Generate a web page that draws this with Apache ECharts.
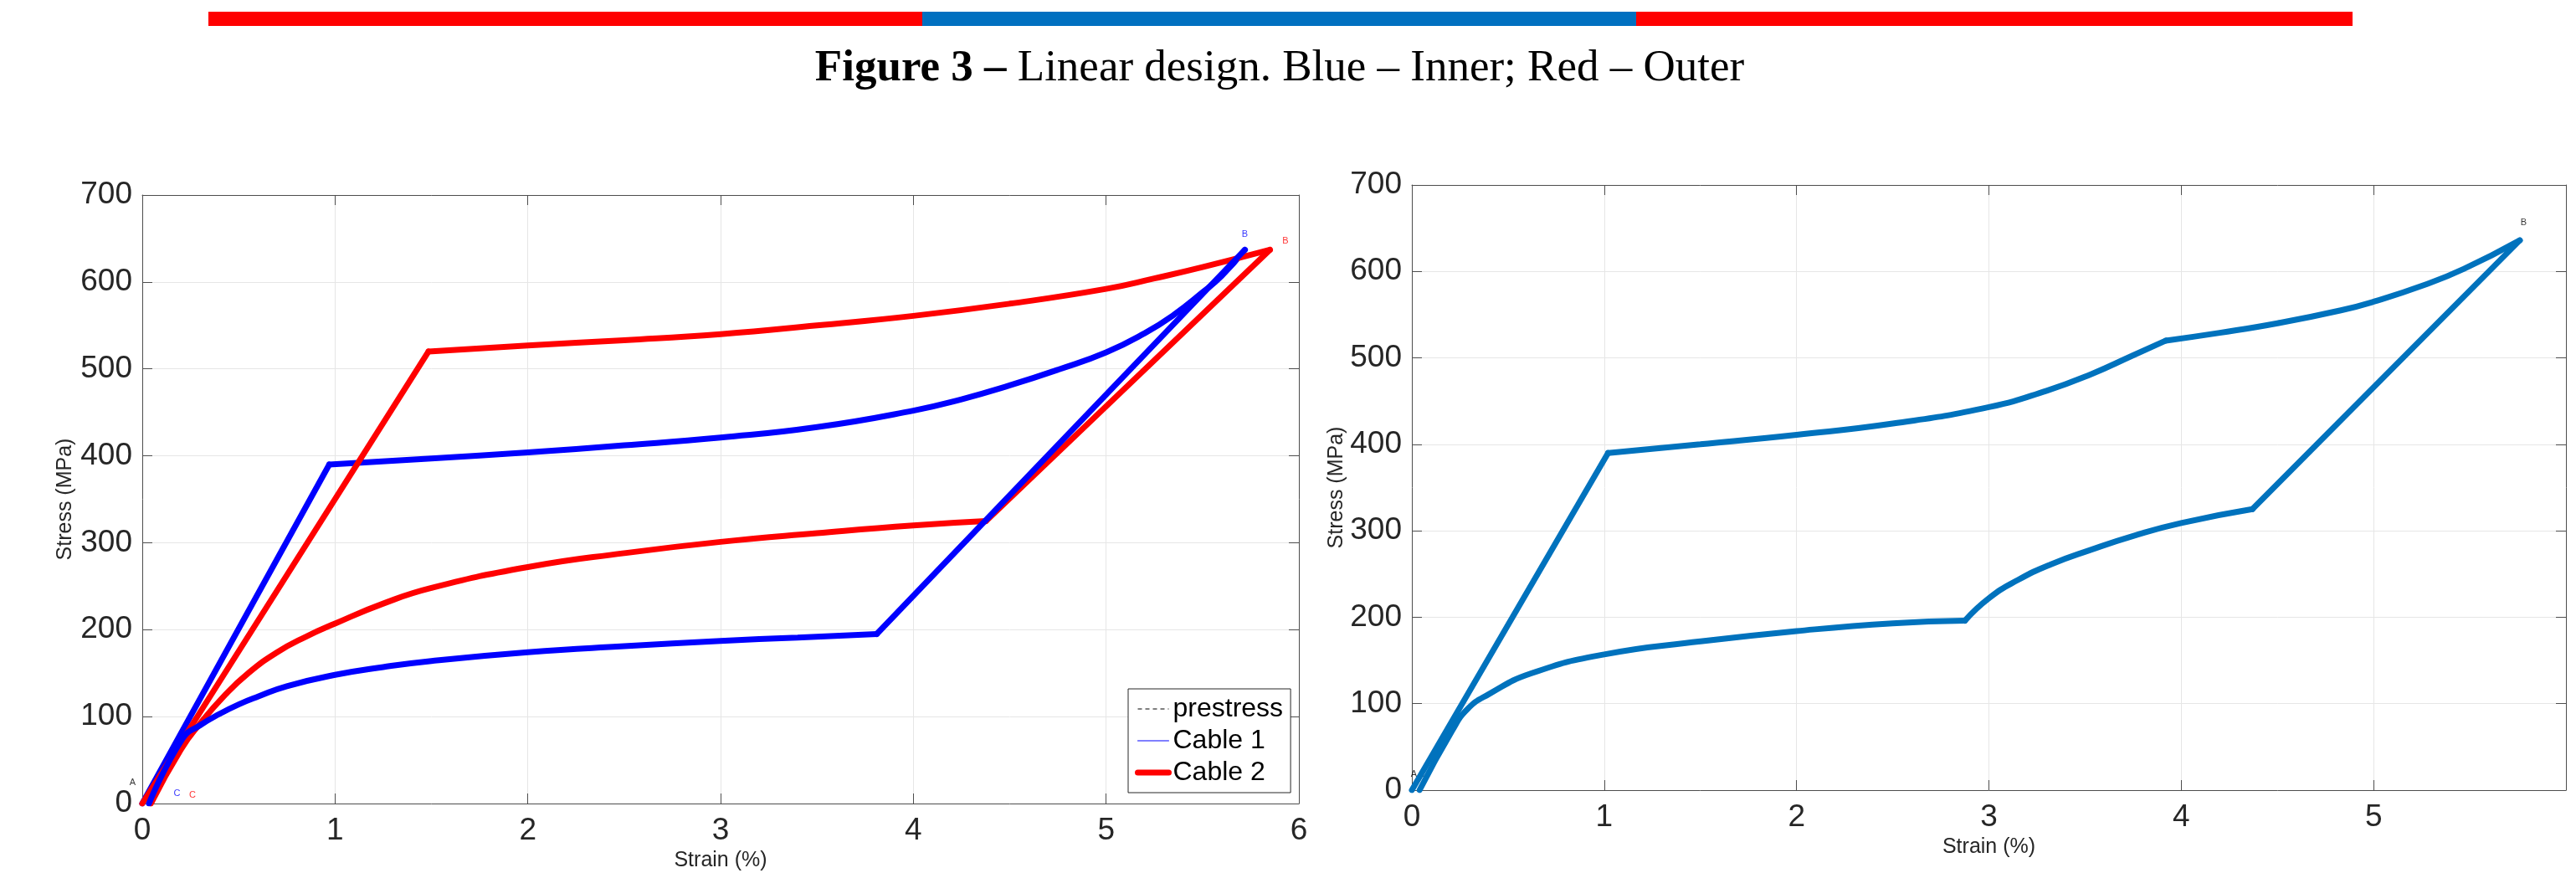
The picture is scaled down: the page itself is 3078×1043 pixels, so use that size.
<!DOCTYPE html>
<html>
<head>
<meta charset="utf-8">
<title>Figure 3 - Linear design</title>
<script src="https://cdn.jsdelivr.net/npm/echarts@6/dist/echarts.min.js"></script>
<style>
	html, body { margin : 0; padding : 0; background : #fff; }
	#main { width : 3078px; height : 1043px; }
</style>
</head>
<body>
<div id="main"></div>
<script>
// tick values shared by both plots
var strainTicks = [ 0, 6, 1 ];
var stressTicks = [ 0, 700, 100 ];

// left plot, Cable 1 (inner): elastic loading, hardening up to B, elastic unloading, return to C
var c1Load = [ [ 0, 0 ], [ 0.97, 390 ] ];
var c1Plateau = [ [ 0.97, 390 ], [ 1.5, 397 ], [ 2, 404 ], [ 2.5, 412 ], [ 3, 421 ], [ 3.5, 433 ], [ 4, 452 ],
		[ 4.25, 465 ], [ 4.5, 481 ], [ 4.75, 499 ], [ 5, 519 ], [ 5.2, 541 ], [ 5.35, 562 ], [ 5.5, 588 ],
		[ 5.6, 607 ], [ 5.72, 637 ] ];
var c1Unload = [ [ 5.72, 637 ], [ 3.81, 195 ] ];
var c1Return = [ [ 3.81, 195 ], [ 3.4, 191 ], [ 3, 187 ], [ 2.5, 181 ], [ 2, 174 ], [ 1.5, 164 ], [ 1.25, 157 ],
		[ 1, 148 ], [ 0.75, 135 ], [ 0.6, 123 ], [ 0.5, 114 ], [ 0.4, 103 ], [ 0.3, 90 ], [ 0.21, 75 ], [ 0.035, 0 ] ];
// left plot, Cable 2 (outer)
var c2Load = [ [ 0, 0 ], [ 1.485, 520 ] ];
var c2Plateau = [ [ 1.485, 520 ], [ 2, 527 ], [ 2.5, 533 ], [ 3, 540 ], [ 3.5, 550 ], [ 4, 561 ], [ 4.5, 575 ],
		[ 5, 592 ], [ 5.25, 604 ], [ 5.5, 617 ], [ 5.85, 637 ] ];
var c2Unload = [ [ 5.85, 637 ], [ 4.377, 325 ] ];
var c2Return = [ [ 4.377, 325 ], [ 4, 320 ], [ 3.5, 311 ], [ 3, 301 ], [ 2.5, 288 ], [ 2, 272 ], [ 1.5, 248 ],
		[ 1.25, 230 ], [ 1, 207 ], [ 0.85, 192 ], [ 0.7, 174 ], [ 0.55, 150 ], [ 0.43, 125 ], [ 0.3, 92 ],
		[ 0.2, 62 ], [ 0.045, 0 ] ];
var prestress = [];
// right plot, combined linear design
var rLoad = [ [ 0, 0 ], [ 1.02, 390 ] ];
var rUpper1 = [ [ 1.02, 390 ], [ 1.5, 400 ], [ 2, 411 ], [ 2.5, 424 ], [ 3, 443 ], [ 3.3, 462 ], [ 3.53, 481 ],
		[ 3.75, 503 ], [ 3.92, 520 ] ];
var rUpper2 = [ [ 3.92, 520 ], [ 4.2, 529 ], [ 4.5, 540 ], [ 4.83, 555 ], [ 5, 565 ], [ 5.26, 584 ], [ 5.47, 603 ],
		[ 5.76, 636 ] ];
var rUnload = [ [ 5.76, 636 ], [ 4.37, 325 ] ];
var rLower1 = [ [ 4.37, 325 ], [ 4, 309 ], [ 3.75, 294 ], [ 3.53, 278 ], [ 3.32, 261 ], [ 3.15, 243 ], [ 3, 222 ],
		[ 2.875, 196 ] ];
var rLower2 = [ [ 2.875, 196 ], [ 2.5, 193 ], [ 2, 184 ], [ 1.5, 172 ], [ 1, 157 ], [ 0.62, 135 ], [ 0.4, 111 ],
		[ 0.29, 94 ], [ 0.21, 69 ], [ 0.04, 0 ] ];

// point labels [strain, stress, text]
var leftLabelsBlack = [ [ -0.05, 24, 'A' ] ];
var leftLabelsBlue = [ [ 0.18, 12, 'C' ], [ 5.72, 655, 'B' ] ];
var leftLabelsRed = [ [ 0.26, 9.6, 'C' ], [ 5.93, 647, 'B' ] ];
var rightLabels = [ [ 0.01, 18, 'A' ], [ 0.055, 18, 'C' ], [ 5.78, 656, 'B' ] ];

var legendNames = [ 'prestress', 'Cable 1', 'Cable 2' ];
var titleBold = 'Figure 3 –';
var titleRest = ' Linear design. Blue – Inner; Red – Outer';

var tickColor = '#262626';
var boxColor = '#4d4d4d';
var blue1 = '#0000ff', red2 = '#ff0000', blueR = '#0072bd';

function makeAxes(grid, hideMax) {
	var line = { show : true, onZero : false, lineStyle : { color : boxColor, width : 1 } };
	var tick = { show : true, inside : true, length : 12, lineStyle : { color : boxColor } };
	var xb = {
		type : 'value', gridIndex : grid, position : 'bottom',
		min : strainTicks[0], max : strainTicks[1], interval : strainTicks[2],
		name : 'Strain (%)', nameLocation : 'middle', nameGap : 56,
		nameTextStyle : { fontSize : 25, color : tickColor, fontFamily : 'Liberation Sans' },
		axisLine : line, axisTick : tick,
		axisLabel : { fontSize : 37, color : tickColor, margin : 14, fontFamily : 'Liberation Sans', showMaxLabel : !hideMax },
		splitLine : { show : true, lineStyle : { color : '#e6e6e6', width : 1 } }
	};
	var xt = {
		type : 'value', gridIndex : grid, position : 'top',
		min : strainTicks[0], max : strainTicks[1], interval : strainTicks[2],
		axisLine : line, axisTick : tick, axisLabel : { show : false }, splitLine : { show : false }
	};
	var yl = {
		type : 'value', gridIndex : grid, position : 'left',
		min : stressTicks[0], max : stressTicks[1], interval : stressTicks[2],
		name : 'Stress (MPa)', nameLocation : 'middle', nameGap : grid === 0 ? 79 : 75,
		nameTextStyle : { fontSize : 25, color : tickColor, fontFamily : 'Liberation Sans' },
		axisLine : line, axisTick : tick,
		axisLabel : { fontSize : 37, color : tickColor, margin : 12, fontFamily : 'Liberation Sans' },
		splitLine : { show : true, lineStyle : { color : '#e6e6e6', width : 1 } }
	};
	var yr = {
		type : 'value', gridIndex : grid, position : 'right',
		min : stressTicks[0], max : stressTicks[1], interval : stressTicks[2],
		axisLine : line, axisTick : tick, axisLabel : { show : false }, splitLine : { show : false }
	};
	return { x : [ xb, xt ], y : [ yl, yr ] };
}

// one piece of a stress-strain path; curved pieces are smoothed, elastic pieces stay straight
function seg(name, data, color, smooth, idx) {
	return {
		name : name, type : 'line', xAxisIndex : idx, yAxisIndex : idx,
		data : data, symbol : 'none', showSymbol : false, smooth : smooth ? 0.5 : false,
		lineStyle : { width : 7, color : color, cap : 'round', join : 'round' },
		itemStyle : { color : color }
	};
}

function labelSeries(data, color, idx) {
	return {
		type : 'scatter', xAxisIndex : idx, yAxisIndex : idx,
		data : data, symbolSize : 0, clip : false, silent : true,
		label : {
			show : true, position : 'inside', fontSize : 11, color : color,
			fontFamily : 'Liberation Sans',
			formatter : function(p) { return p.value[2]; }
		}
	};
}

var a0 = makeAxes(0, false);
var a1 = makeAxes(1, true);

var myChart = echarts.init(document.getElementById('main'));
var option = {
	animation : false,
	backgroundColor : '#fff',
	grid : [
		{ left : 170, top : 233, width : 1382, height : 727, outerBoundsMode : 'none' },
		{ left : 1687, top : 221, width : 1379, height : 723, outerBoundsMode : 'none' }
	],
	xAxis : [ a0.x[0], a0.x[1], a1.x[0], a1.x[1] ],
	yAxis : [ a0.y[0], a0.y[1], a1.y[0], a1.y[1] ],
	legend : {
		orient : 'vertical', left : 1348, top : 823,
		padding : [ 8, 9, 8, 8 ], itemGap : 6, itemWidth : 37, itemHeight : 14,
		borderColor : '#262626', borderWidth : 1, backgroundColor : '#fff',
		textStyle : { fontSize : 32, color : '#000', fontFamily : 'Liberation Sans' },
		data : [
			{ name : legendNames[0], itemStyle : { opacity : 0 }, lineStyle : { type : [ 5, 4 ], width : 1, color : '#000', opacity : 1 } },
			{ name : legendNames[1], itemStyle : { opacity : 0 }, lineStyle : { width : 1, color : blue1, opacity : 1 } },
			{ name : legendNames[2], itemStyle : { opacity : 0 }, lineStyle : { width : 7, color : red2, opacity : 1 } }
		]
	},
	graphic : [
		{ type : 'rect', shape : { x : 249, y : 14, width : 854, height : 17 }, style : { fill : '#ff0000' } },
		{ type : 'rect', shape : { x : 1102, y : 14, width : 854, height : 17 }, style : { fill : '#0070c0' } },
		{ type : 'rect', shape : { x : 1955, y : 14, width : 856, height : 17 }, style : { fill : '#ff0000' } },
		{
			type : 'text', x : 1529, y : 82,
			style : {
				text : '{b|' + titleBold + '}{n|' + titleRest + '}',
				align : 'center', verticalAlign : 'middle',
				rich : {
					b : { fontSize : 53, fontWeight : 'bold', fontFamily : 'Liberation Serif', fill : '#000' },
					n : { fontSize : 53, fontFamily : 'Liberation Serif', fill : '#000' }
				}
			}
		}
	],
	series : [ {
		name : legendNames[0], type : 'line', xAxisIndex : 0, yAxisIndex : 0,
		data : prestress, symbol : 'none',
		lineStyle : { type : 'dashed', width : 1, color : '#000' }, itemStyle : { color : '#000' }
	},
		seg(legendNames[1], c1Load, blue1, false, 0),
		seg(legendNames[1], c1Plateau, blue1, true, 0),
		seg(legendNames[2], c2Load, red2, false, 0),
		seg(legendNames[2], c2Plateau, red2, true, 0),
		seg(legendNames[2], c2Unload, red2, false, 0),
		seg(legendNames[2], c2Return, red2, true, 0),
		seg(legendNames[1], c1Unload, blue1, false, 0),
		seg(legendNames[1], c1Return, blue1, true, 0),
		seg('Linear design', rLoad, blueR, false, 2),
		seg('Linear design', rUpper1, blueR, true, 2),
		seg('Linear design', rUpper2, blueR, true, 2),
		seg('Linear design', rUnload, blueR, false, 2),
		seg('Linear design', rLower1, blueR, true, 2),
		seg('Linear design', rLower2, blueR, true, 2),
		labelSeries(leftLabelsBlack, '#000', 0),
		labelSeries(leftLabelsBlue, blue1, 0),
		labelSeries(leftLabelsRed, red2, 0),
		labelSeries(rightLabels, '#000', 2)
	]
};
myChart.setOption(option);
</script>
</body>
</html>
